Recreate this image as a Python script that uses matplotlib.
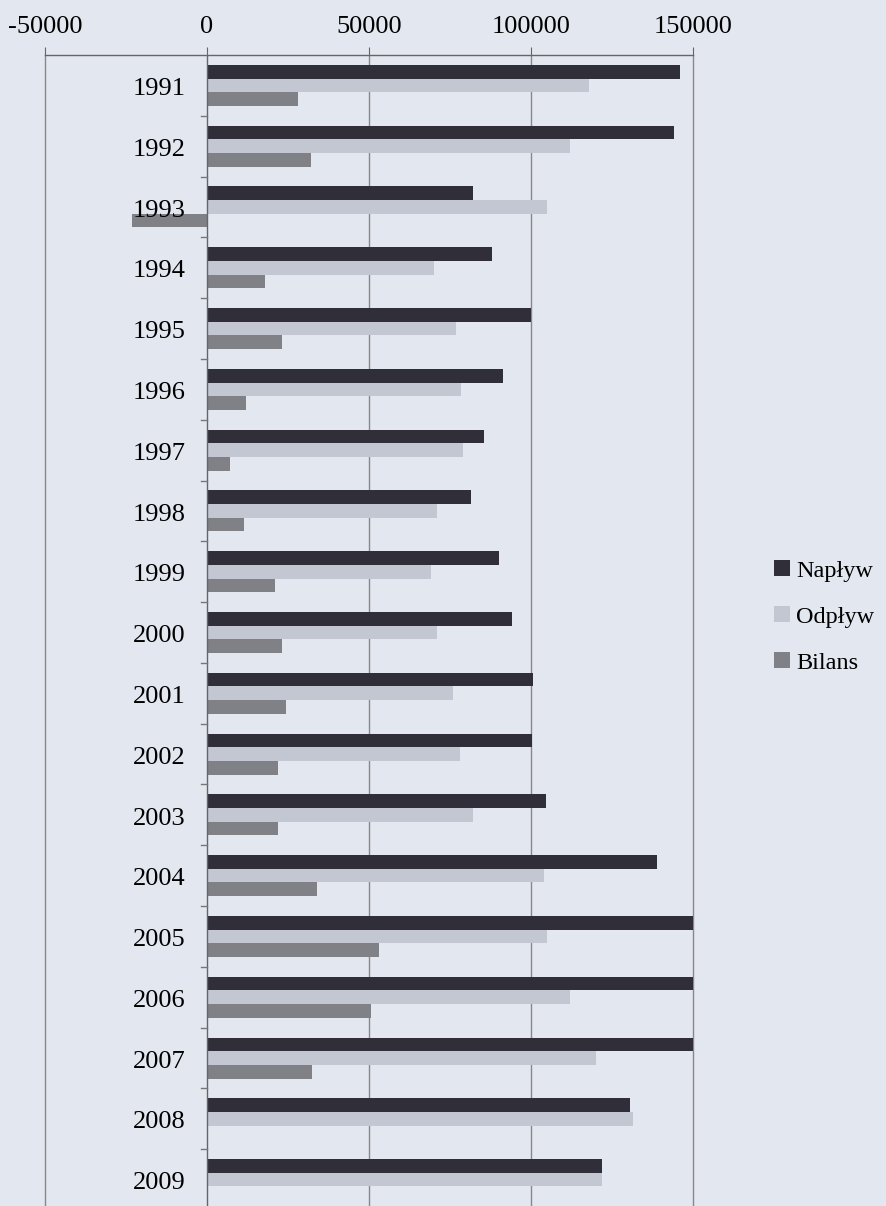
import numpy as np
import matplotlib
matplotlib.use("Agg")
import matplotlib.pyplot as plt
from matplotlib.patches import Patch

years = [str(y) for y in range(1991, 2010)]
naplyw = [146000, 144000, 82000, 88000, 100000, 91500, 85500, 81500, 90000, 94000,
          100600, 100200, 104600, 139000, 152000, 152000, 152000, 130500, 122000]
odplyw = [118000, 112000, 105000, 70000, 77000, 78500, 79000, 71000, 69000, 71000,
          76000, 78000, 82000, 104000, 105000, 112000, 120000, 131500, 122000]
bilans = [28000, 32000, -23000, 18000, 23000, 12000, 7000, 11500, 21000, 23000,
          24500, 22000, 22000, 34000, 53000, 50500, 32500, 0, 0]
series_names = ["Napływ", "Odpływ", "Bilans"]
xticks = [-50000, 0, 50000, 100000, 150000]

bg = "#e3e7f0"
colors = ["#302e38", "#c3c7d1", "#808186"]

plt.rcParams['font.family'] = ['Liberation Serif', 'DejaVu Serif']

W, H = 886, 1206
fig = plt.figure(figsize=(W / 100, H / 100), dpi=100, facecolor=bg)
left_px, right_px, top_px, bottom_px = 45, 693, 55, 1210
ax = fig.add_axes([left_px / W, (H - bottom_px) / H,
                   (right_px - left_px) / W, (bottom_px - top_px) / H])
ax.set_facecolor(bg)

n = len(years)
pos = np.arange(n)
bh = 0.225
for k, (vals, c) in enumerate(zip([naplyw, odplyw, bilans], colors)):
    ax.barh(pos + (k - 1) * bh, vals, height=bh, color=c, zorder=3)

ax.set_xlim(-50000, 150000)
ax.set_ylim(n - 0.5, -0.5)

# x axis on top
ax.xaxis.tick_top()
ax.set_xticks(xticks)
ax.set_xticklabels([str(v) for v in xticks], fontsize=19)
ax.tick_params(axis='x', direction='out', length=6, width=0.8, color='#666666', pad=6)

# gridlines
for v in [50000, 100000]:
    ax.axvline(v, color='#888888', lw=1.0, zorder=1)

# spines
ax.spines['bottom'].set_visible(False)
ax.spines['top'].set_color('#666666')
ax.spines['right'].set_color('#888888')
ax.spines['left'].set_color('#888888')
for s in ['top', 'right', 'left']:
    ax.spines[s].set_linewidth(1.0)

# zero axis line with category ticks
ax.axvline(0, color='#666666', lw=1.0, zorder=4)
ax.set_yticks(pos)
ax.set_yticklabels([])
ax.tick_params(axis='y', length=0)
for i, y in enumerate(years):
    ax.text(-6500, i + 0.06, y, ha='right', va='center', fontsize=19, zorder=5)
for b in np.arange(0.5, n - 0.5, 1.0):
    ax.plot([-1700, 0], [b, b], color='#777777', lw=1.0, zorder=4, clip_on=False)

handles = [Patch(facecolor=c, edgecolor='none') for c in colors]
fig.legend(handles, series_names, loc='center left',
           bbox_to_anchor=(774 / W, 1 - 617 / H), frameon=False, borderpad=0,
           borderaxespad=0, fontsize=17.5, handlelength=0.64, handleheight=0.64,
           handletextpad=0.28, labelspacing=1.0)

fig.savefig("out.png", dpi=100, facecolor=bg)
